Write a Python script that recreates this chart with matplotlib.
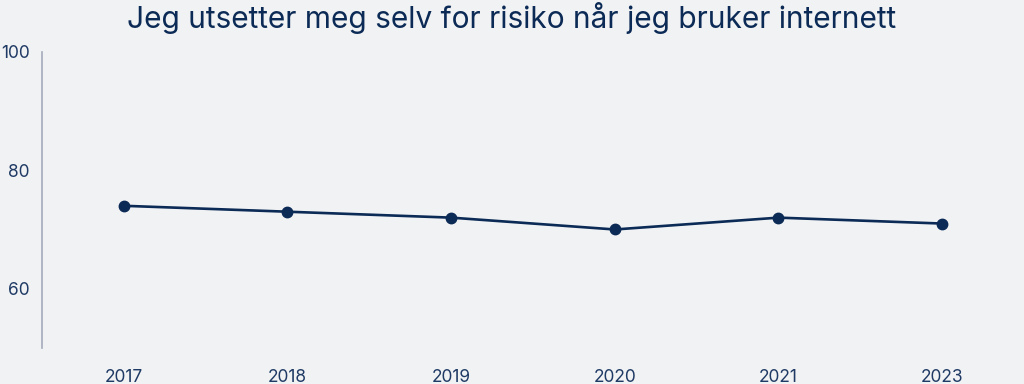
import matplotlib
matplotlib.use("Agg")
import matplotlib.pyplot as plt

# Data
years = ["2017", "2018", "2019", "2020", "2021", "2023"]
values = [74, 73, 72, 70, 72, 71]
y_ticks = [60, 80, 100]

title = "Jeg utsetter meg selv for risiko når jeg bruker internett"

BG = "#f1f2f4"
NAVY = "#0b2a55"
TICK = "#1f3a64"
SPINE = "#a3abbb"

plt.rcParams["font.family"] = ["Inter", "DejaVu Sans"]

fig = plt.figure(figsize=(10.24, 3.84), dpi=100, facecolor=BG)
ax = fig.add_axes([0.041, 0.094, 0.959, 0.771], facecolor=BG)

x = range(len(years))
ax.plot(x, values, color=NAVY, lw=1.9, marker="o", ms=7.5, zorder=3)

ax.set_xlim(-0.5, len(years) - 0.5)
ax.set_ylim(50, 100)
ax.set_xticks(list(x))
ax.set_xticklabels(years)
ax.set_yticks(y_ticks)

for side in ("top", "right", "bottom"):
    ax.spines[side].set_visible(False)
ax.spines["left"].set_color(SPINE)
ax.spines["left"].set_linewidth(1.2)

ax.tick_params(axis="both", length=0, labelcolor=TICK, labelsize=12.5)
ax.tick_params(axis="x", pad=15)
ax.tick_params(axis="y", pad=9)

fig.text(0.5, 0.995, title, ha="center", va="top", color=NAVY, fontsize=21.5)

fig.savefig("out.png", dpi=100, facecolor=BG)
